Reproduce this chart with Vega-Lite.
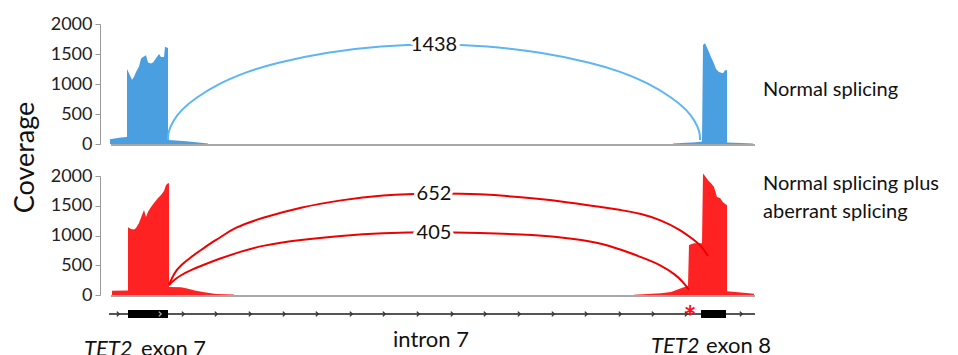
{
  "$schema": "https://vega.github.io/schema/vega-lite/v6.json",
  "padding": {"left": 10, "top": 15, "right": 0, "bottom": 0},
  "background": "white",
  "config": {
    "view": {"stroke": null},
    "axis": {"labelFont": "Lato", "titleFont": "Lato"},
    "axisY": {"tickCount": 5, "labelOverlap": false, "format": "d", "labelFontSize": 18, "labelColor": "#222", "labelPadding": 3, "tickSize": 5, "tickColor": "#999", "domainColor": "#999", "grid": false},
    "text": {"font": "Lato"}
  },
  "datasets": {
    "blueCov": [
      {"seg":"a","p":10,"v":0},{"seg":"a","p":10,"v":80},{"seg":"a","p":16,"v":95},{"seg":"a","p":21,"v":110},{"seg":"a","p":27,"v":115},{"seg":"a","p":27,"v":1250},{"seg":"a","p":29,"v":1180},{"seg":"a","p":32,"v":1070},{"seg":"a","p":34,"v":1120},{"seg":"a","p":36,"v":1200},{"seg":"a","p":39,"v":1290},{"seg":"a","p":41,"v":1420},{"seg":"a","p":43,"v":1450},{"seg":"a","p":46,"v":1480},{"seg":"a","p":48,"v":1360},{"seg":"a","p":51,"v":1340},{"seg":"a","p":53,"v":1360},{"seg":"a","p":56,"v":1430},{"seg":"a","p":59,"v":1500},{"seg":"a","p":61,"v":1450},{"seg":"a","p":64,"v":1450},{"seg":"a","p":65,"v":1620},{"seg":"a","p":68,"v":1600},{"seg":"a","p":68,"v":65},{"seg":"a","p":76,"v":60},{"seg":"a","p":86,"v":45},{"seg":"a","p":96,"v":30},{"seg":"a","p":108,"v":10},{"seg":"a","p":108,"v":0},
      {"seg":"b","p":573,"v":0},{"seg":"b","p":573,"v":10},{"seg":"b","p":586,"v":20},{"seg":"b","p":596,"v":30},{"seg":"b","p":602,"v":40},{"seg":"b","p":603,"v":1650},{"seg":"b","p":605,"v":1680},{"seg":"b","p":608,"v":1570},{"seg":"b","p":611,"v":1450},{"seg":"b","p":614,"v":1340},{"seg":"b","p":616,"v":1250},{"seg":"b","p":619,"v":1200},{"seg":"b","p":623,"v":1180},{"seg":"b","p":625,"v":1230},{"seg":"b","p":627,"v":1230},{"seg":"b","p":627,"v":25},{"seg":"b","p":641,"v":15},{"seg":"b","p":653,"v":10},{"seg":"b","p":653,"v":0}
    ],
    "redCov": [
      {"seg":"a","p":12,"v":0},{"seg":"a","p":12,"v":70},{"seg":"a","p":28,"v":75},{"seg":"a","p":28,"v":1140},{"seg":"a","p":31,"v":1110},{"seg":"a","p":34,"v":1100},{"seg":"a","p":36,"v":1125},{"seg":"a","p":39,"v":1210},{"seg":"a","p":42,"v":1345},{"seg":"a","p":44,"v":1430},{"seg":"a","p":46,"v":1310},{"seg":"a","p":48,"v":1400},{"seg":"a","p":51,"v":1480},{"seg":"a","p":54,"v":1545},{"seg":"a","p":58,"v":1630},{"seg":"a","p":61,"v":1680},{"seg":"a","p":64,"v":1750},{"seg":"a","p":66,"v":1850},{"seg":"a","p":68,"v":1880},{"seg":"a","p":69,"v":1880},{"seg":"a","p":69,"v":135},{"seg":"a","p":81,"v":130},{"seg":"a","p":86,"v":115},{"seg":"a","p":96,"v":72},{"seg":"a","p":106,"v":40},{"seg":"a","p":116,"v":17},{"seg":"a","p":134,"v":8},{"seg":"a","p":134,"v":0},
      {"seg":"b","p":534,"v":0},{"seg":"b","p":534,"v":5},{"seg":"b","p":561,"v":30},{"seg":"b","p":571,"v":50},{"seg":"b","p":581,"v":115},{"seg":"b","p":588,"v":155},{"seg":"b","p":589,"v":840},{"seg":"b","p":594,"v":870},{"seg":"b","p":602,"v":870},{"seg":"b","p":603,"v":2040},{"seg":"b","p":605,"v":2000},{"seg":"b","p":608,"v":1930},{"seg":"b","p":611,"v":1880},{"seg":"b","p":614,"v":1815},{"seg":"b","p":617,"v":1645},{"seg":"b","p":620,"v":1630},{"seg":"b","p":623,"v":1560},{"seg":"b","p":627,"v":1510},{"seg":"b","p":627,"v":65},{"seg":"b","p":641,"v":40},{"seg":"b","p":654,"v":20},{"seg":"b","p":654,"v":0}
    ],
    "blueArc": [
      {"p":68,"v":67},{"p":68,"v":200},{"p":73,"v":385},{"p":81,"v":566},{"p":95,"v":765},{"p":121,"v":1027},{"p":148,"v":1209},{"p":174,"v":1347},{"p":228,"v":1534},{"p":281,"v":1635},{"p":334,"v":1667},{"p":387,"v":1635},{"p":440,"v":1534},{"p":494,"v":1347},{"p":520,"v":1209},{"p":547,"v":1027},{"p":573,"v":765},{"p":587,"v":566},{"p":595,"v":385},{"p":600,"v":200},{"p":600,"v":67}
    ],
    "redArc": [
      {"arc":"u","p":69,"v":168},{"arc":"u","p":74,"v":370},{"arc":"u","p":81,"v":504},{"arc":"u","p":91,"v":638},{"arc":"u","p":101,"v":756},{"arc":"u","p":111,"v":874},{"arc":"u","p":121,"v":974},{"arc":"u","p":134,"v":1130},{"arc":"u","p":161,"v":1294},{"arc":"u","p":201,"v":1478},{"arc":"u","p":241,"v":1596},{"arc":"u","p":281,"v":1680},{"arc":"u","p":334,"v":1714},{"arc":"u","p":381,"v":1697},{"arc":"u","p":421,"v":1646},{"arc":"u","p":461,"v":1579},{"arc":"u","p":501,"v":1478},{"arc":"u","p":521,"v":1428},{"arc":"u","p":541,"v":1370},{"arc":"u","p":561,"v":1260},{"arc":"u","p":581,"v":1092},{"arc":"u","p":594,"v":924},{"arc":"u","p":601,"v":830},{"arc":"u","p":608,"v":655},
      {"arc":"l","p":69,"v":168},{"arc":"l","p":74,"v":252},{"arc":"l","p":81,"v":336},{"arc":"l","p":91,"v":420},{"arc":"l","p":101,"v":490},{"arc":"l","p":121,"v":620},{"arc":"l","p":141,"v":730},{"arc":"l","p":161,"v":830},{"arc":"l","p":201,"v":930},{"arc":"l","p":241,"v":995},{"arc":"l","p":281,"v":1042},{"arc":"l","p":334,"v":1058},{"arc":"l","p":381,"v":1042},{"arc":"l","p":421,"v":1020},{"arc":"l","p":461,"v":974},{"arc":"l","p":501,"v":880},{"arc":"l","p":521,"v":760},{"arc":"l","p":541,"v":640},{"arc":"l","p":561,"v":505},{"arc":"l","p":576,"v":336},{"arc":"l","p":584,"v":202},{"arc":"l","p":589,"v":84}
    ]
  },
  "spacing": 32,
  "bounds": "flush",
  "vconcat": [
    {
      "width": 859,
      "height": 120,
      "encoding": {
        "x": {"field": "p", "type": "quantitative", "scale": {"domain": [0, 859], "nice": false, "zero": false}, "axis": null},
        "y": {"field": "v", "type": "quantitative", "scale": {"domain": [0, 2000], "nice": false},
          "axis": {"values": [0, 500, 1000, 1500, 2000], "title": "Coverage", "titleFontSize": 27, "titleFontWeight": "normal", "titleColor": "#111", "titleX": -67, "titleY": 133, "titleAngle": -90, "titleAlign": "center", "titleBaseline": "alphabetic"}}
      },
      "layer": [
        {
          "data": {"values": [{"p": 11, "p2": 655, "v": 0}]},
          "mark": {"type": "rule", "color": "#a8a8a8", "strokeWidth": 2, "yOffset": 1},
          "encoding": {"x2": {"field": "p2"}}
        },
        {
          "data": {"name": "blueCov"},
          "mark": {"type": "area", "color": "#4a9fe0", "opacity": 1},
          "encoding": {
            "y": {"field": "v", "type": "quantitative", "stack": null},
            "detail": {"field": "seg"}
          }
        },
        {
          "data": {"name": "blueArc"},
          "mark": {"type": "line", "color": "#5db5f2", "strokeWidth": 2, "interpolate": "basis"},
          "encoding": {}
        },
        {
          "data": {"values": [{"p": 334, "v": 1650, "label": "1438"}]},
          "mark": {"type": "text", "fontSize": 20, "baseline": "middle", "align": "center", "stroke": "white", "strokeWidth": 7, "color": "white"},
          "encoding": {"text": {"field": "label"}}
        },
        {
          "data": {"values": [{"p": 334, "v": 1650, "label": "1438"}]},
          "mark": {"type": "text", "fontSize": 20, "baseline": "middle", "align": "center", "color": "#111"},
          "encoding": {"text": {"field": "label"}}
        },
        {
          "data": {"values": [{"p": 663, "v": 800, "label": "Normal splicing"}]},
          "mark": {"type": "text", "fontSize": 20, "baseline": "alphabetic", "align": "left", "color": "#111"},
          "encoding": {"text": {"field": "label"}}
        }
      ]
    },
    {
      "width": 859,
      "height": 119,
      "encoding": {
        "x": {"field": "p", "type": "quantitative", "scale": {"domain": [0, 859], "nice": false, "zero": false}, "axis": null},
        "y": {"field": "v", "type": "quantitative", "scale": {"domain": [0, 2000], "nice": false},
          "axis": {"values": [0, 500, 1000, 1500, 2000], "title": null}}
      },
      "layer": [
        {
          "data": {"values": [{"p": 11, "p2": 655, "v": 0}]},
          "mark": {"type": "rule", "color": "#a8a8a8", "strokeWidth": 2, "yOffset": 1},
          "encoding": {"x2": {"field": "p2"}}
        },
        {
          "data": {"name": "redCov"},
          "mark": {"type": "area", "color": "#ff2222", "opacity": 1},
          "encoding": {
            "y": {"field": "v", "type": "quantitative", "stack": null},
            "detail": {"field": "seg"}
          }
        },
        {
          "data": {"name": "redArc"},
          "mark": {"type": "line", "color": "#ee0000", "strokeWidth": 2, "interpolate": "basis"},
          "encoding": {"detail": {"field": "arc"}}
        },
        {
          "data": {"values": [{"p": 334, "v": 1697, "label": "652"}, {"p": 334, "v": 1042, "label": "405"}]},
          "mark": {"type": "text", "fontSize": 20, "baseline": "middle", "align": "center", "stroke": "white", "strokeWidth": 7, "color": "white"},
          "encoding": {"text": {"field": "label"}}
        },
        {
          "data": {"values": [{"p": 334, "v": 1697, "label": "652"}, {"p": 334, "v": 1042, "label": "405"}]},
          "mark": {"type": "text", "fontSize": 20, "baseline": "middle", "align": "center", "color": "#111"},
          "encoding": {"text": {"field": "label"}}
        },
        {
          "data": {"values": [{"p": 663, "v": 1764, "label": "Normal splicing plus"}, {"p": 663, "v": 1294, "label": "aberrant splicing"}]},
          "mark": {"type": "text", "fontSize": 20, "baseline": "alphabetic", "align": "left", "color": "#111"},
          "encoding": {"text": {"field": "label"}}
        }
      ]
    },
    {
      "width": 859,
      "height": 28,
      "layer": [
        {
          "data": {"values": [{"p": 9, "p2": 655, "t": 0}]},
          "mark": {"type": "rule", "color": "#555555", "strokeWidth": 2},
          "encoding": {
            "x": {"field": "p", "type": "quantitative", "scale": {"domain": [0, 859], "nice": false, "zero": false}, "axis": null},
            "x2": {"field": "p2"},
            "y": {"field": "t", "type": "quantitative", "scale": {"domain": [-41, -13], "nice": false, "zero": false}, "axis": null}
          }
        },
        {
          "data": {"values": [{"p": 18}, {"p": 83}, {"p": 116}, {"p": 150}, {"p": 184}, {"p": 217}, {"p": 251}, {"p": 284}, {"p": 318}, {"p": 352}, {"p": 385}, {"p": 419}, {"p": 453}, {"p": 486}, {"p": 520}, {"p": 553}, {"p": 586}, {"p": 641}]},
          "mark": {"type": "point", "shape": "M-0.4,-0.8L0.4,0L-0.4,0.8", "filled": false, "size": 36, "stroke": "#333333", "strokeWidth": 1.3, "opacity": 1},
          "encoding": {
            "x": {"field": "p", "type": "quantitative"},
            "y": {"datum": 0, "type": "quantitative"}
          }
        },
        {
          "data": {"values": [{"p": 28, "p2": 68, "t": -4, "t2": 4}, {"p": 601, "p2": 626, "t": -4, "t2": 4}]},
          "mark": {"type": "rect", "color": "#000000"},
          "encoding": {
            "x": {"field": "p", "type": "quantitative"},
            "x2": {"field": "p2"},
            "y": {"field": "t", "type": "quantitative"},
            "y2": {"field": "t2"}
          }
        },
        {
          "data": {"values": [{"p": 60}]},
          "mark": {"type": "point", "shape": "M-0.4,-0.8L0.4,0L-0.4,0.8", "filled": false, "size": 36, "stroke": "#aaaaaa", "strokeWidth": 1.3, "opacity": 1},
          "encoding": {
            "x": {"field": "p", "type": "quantitative"},
            "y": {"datum": 0, "type": "quantitative"}
          }
        },
        {
          "data": {"values": [{"p": 590, "t": -14, "label": "*"}]},
          "mark": {"type": "text", "fontSize": 30, "fontWeight": "bold", "align": "center", "baseline": "alphabetic", "color": "#ff1010"},
          "encoding": {
            "x": {"field": "p", "type": "quantitative"},
            "y": {"field": "t", "type": "quantitative"},
            "text": {"field": "label"}
          }
        },
        {
          "data": {"values": [{"p": -16, "t": -42, "label": "TET2"}, {"p": 551, "t": -39, "label": "TET2"}]},
          "mark": {"type": "text", "fontSize": 22, "fontStyle": "italic", "align": "left", "baseline": "alphabetic", "color": "#111"},
          "encoding": {
            "x": {"field": "p", "type": "quantitative"},
            "y": {"field": "t", "type": "quantitative"},
            "text": {"field": "label"}
          }
        },
        {
          "data": {"values": [{"p": 41, "t": -42, "label": "exon 7"}, {"p": 606, "t": -39, "label": "exon 8"}, {"p": 293, "t": -33, "label": "intron 7"}]},
          "mark": {"type": "text", "fontSize": 22, "align": "left", "baseline": "alphabetic", "color": "#111"},
          "encoding": {
            "x": {"field": "p", "type": "quantitative"},
            "y": {"field": "t", "type": "quantitative"},
            "text": {"field": "label"}
          }
        }
      ]
    }
  ]
}
